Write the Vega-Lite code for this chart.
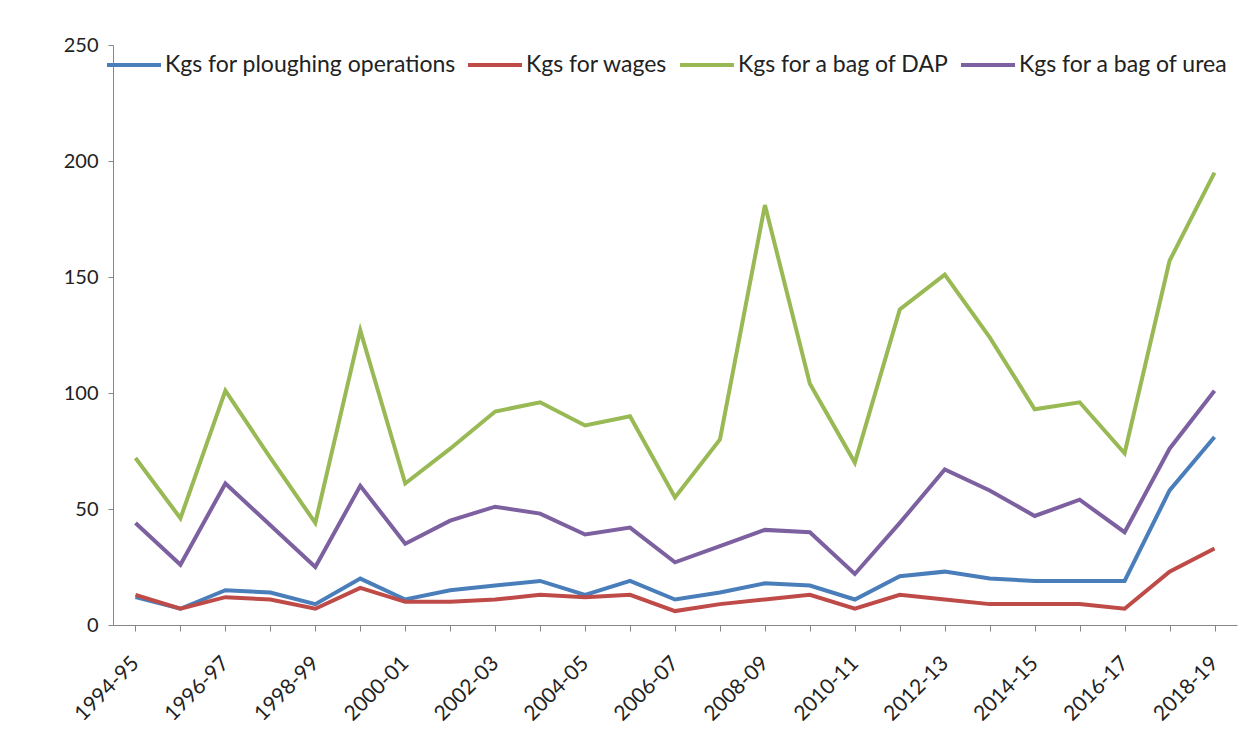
{
  "$schema": "https://vega.github.io/schema/vega-lite/v6.json",
  "width": 1124,
  "height": 580,
  "autosize": "none",
  "padding": {"left": 113, "top": 45, "right": 22, "bottom": 129},
  "background": "white",
  "config": {
    "view": {"stroke": null},
    "font": "Lato",
    "axis": {"labelFont": "Lato", "labelColor": "#222", "domainColor": "#868686", "tickColor": "#868686", "grid": false, "title": null}
  },
  "datasets": {
    "d": [
      {"year": "1994-95", "P": 12, "W": 13, "D": 72, "U": 44},
      {"year": "1995-96", "P": 7, "W": 7, "D": 46, "U": 26},
      {"year": "1996-97", "P": 15, "W": 12, "D": 101, "U": 61},
      {"year": "1997-98", "P": 14, "W": 11, "D": 72, "U": 43},
      {"year": "1998-99", "P": 9, "W": 7, "D": 44, "U": 25},
      {"year": "1999-00", "P": 20, "W": 16, "D": 127, "U": 60},
      {"year": "2000-01", "P": 11, "W": 10, "D": 61, "U": 35},
      {"year": "2001-02", "P": 15, "W": 10, "D": 76, "U": 45},
      {"year": "2002-03", "P": 17, "W": 11, "D": 92, "U": 51},
      {"year": "2003-04", "P": 19, "W": 13, "D": 96, "U": 48},
      {"year": "2004-05", "P": 13, "W": 12, "D": 86, "U": 39},
      {"year": "2005-06", "P": 19, "W": 13, "D": 90, "U": 42},
      {"year": "2006-07", "P": 11, "W": 6, "D": 55, "U": 27},
      {"year": "2007-08", "P": 14, "W": 9, "D": 80, "U": 34},
      {"year": "2008-09", "P": 18, "W": 11, "D": 181, "U": 41},
      {"year": "2009-10", "P": 17, "W": 13, "D": 104, "U": 40},
      {"year": "2010-11", "P": 11, "W": 7, "D": 70, "U": 22},
      {"year": "2011-12", "P": 21, "W": 13, "D": 136, "U": 44},
      {"year": "2012-13", "P": 23, "W": 11, "D": 151, "U": 67},
      {"year": "2013-14", "P": 20, "W": 9, "D": 124, "U": 58},
      {"year": "2014-15", "P": 19, "W": 9, "D": 93, "U": 47},
      {"year": "2015-16", "P": 19, "W": 9, "D": 96, "U": 54},
      {"year": "2016-17", "P": 19, "W": 7, "D": 74, "U": 40},
      {"year": "2017-18", "P": 58, "W": 23, "D": 157, "U": 76},
      {"year": "2018-19", "P": 81, "W": 33, "D": 195, "U": 101}
    ]
  },
  "data": {"name": "d"},
  "transform": [
    {"fold": ["P", "W", "D", "U"], "as": ["k", "value"]},
    {"calculate": "datum.k == 'P' ? 'Kgs for ploughing operations' : datum.k == 'W' ? 'Kgs for wages' : datum.k == 'D' ? 'Kgs for a bag of DAP' : 'Kgs for a bag of urea'", "as": "series"}
  ],
  "mark": {"type": "line", "strokeWidth": 4, "strokeJoin": "miter"},
  "encoding": {
    "x": {
      "field": "year", "type": "nominal", "sort": null,
      "scale": {"paddingInner": 0, "paddingOuter": 0},
      "axis": {
        "bandPosition": 0, "labelOffset": 0, "labelAngle": -45, "labelAlign": "right", "labelBaseline": "middle",
        "labelFontSize": 21, "labelPadding": 29, "tickSize": 6, "labelOverlap": false,
        "labelExpr": "toNumber(substring(datum.value,0,4)) % 2 == 0 ? datum.value : ''"
      }
    },
    "y": {
      "field": "value", "type": "quantitative",
      "scale": {"domain": [0, 250], "nice": false},
      "axis": {"values": [0, 50, 100, 150, 200, 250], "labelFontSize": 20, "tickSize": 5, "labelPadding": 10}
    },
    "color": {
      "field": "series", "type": "nominal",
      "scale": {
        "domain": ["Kgs for ploughing operations", "Kgs for wages", "Kgs for a bag of DAP", "Kgs for a bag of urea"],
        "range": ["#4a7ebb", "#be4b48", "#98b954", "#7d60a0"]
      },
      "legend": {
        "orient": "none", "legendX": -8, "legendY": -9, "direction": "horizontal", "title": null,
        "symbolType": "stroke", "symbolSize": 2916, "symbolStrokeWidth": 4,
        "labelFont": "Lato", "labelFontSize": 23, "labelColor": "#222", "labelOffset": 2,
        "columnPadding": 4, "labelLimit": 400
      }
    }
  }
}
